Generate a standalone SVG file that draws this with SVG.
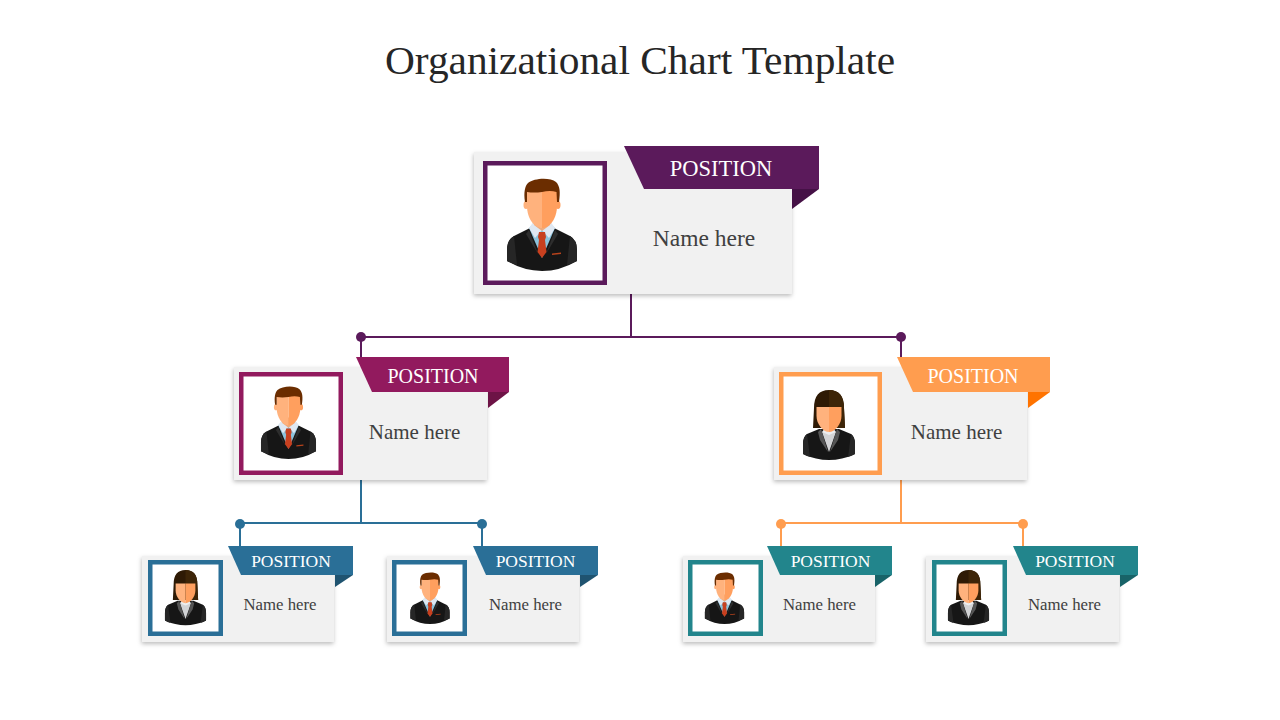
<svg xmlns="http://www.w3.org/2000/svg" xmlns:xlink="http://www.w3.org/1999/xlink" width="1280" height="720" viewBox="0 0 1280 720">
<style>
text{font-family:"Liberation Serif","Times New Roman",serif;text-anchor:middle}
.title{font-size:40px;fill:#262626}
.card{fill:#f1f1f1;filter:url(#sh)}
.frame{fill:#fff;stroke-width:4.5}
.pos{fill:#fff}
.nm{fill:#404040}
.pl{font-size:22.500px}.nl{font-size:23.500px}.pm{font-size:20px}.nm2{font-size:21px}.ps{font-size:17.500px}.ns{font-size:16.800px}
.conn{fill:none;stroke-width:2}
</style>
<defs>
<filter id="sh" x="-5%" y="-5%" width="112%" height="114%"><feDropShadow dx="-.5" dy="2" stdDeviation="2.300" flood-color="#000" flood-opacity=".26"/></filter>
<g id="man">
<path d="M-12 50 L-28 58 Q-35 62 -35 72 L-35 83 Q-18 93 0 93 Q18 93 35 83 L35 72 Q35 62 28 58 L12 50Z" fill="#161616"/>
<path d="M-35 83 L-35 72 Q-35 62 -28 58 L-25 87Q-31 85 -35 83Z M35 83 L35 72 Q35 62 28 58 L25 87Q31 85 35 83Z" fill="#262626"/>
<path d="M-13 50 L0 80 L13 50 L7 44 L-7 44Z" fill="#8cc3dc"/>
<path d="M-13 50 L-8 43 L0 52 L8 43 L13 50 L7 60 L0 52 L-7 60Z" fill="#dfe8f2"/>
<path d="M-8 40 H8 V47 L0 53 L-8 47Z" fill="#eeaa7c"/>
<path d="M-13 52 L-16 56 L-4 76Z M13 52 L16 56 L4 76Z" fill="#2d2d2d"/>
<path d="M-3 54 H3 L4 59 L3 62 L4.500 74 L0 80 L-4.500 74 L-3 62 L-4 59Z" fill="#c8401f"/>
<path d="M10 75.500 L19 74.500 V76 L10 77Z" fill="#b8431c"/>
<ellipse cx="-16" cy="27" rx="2.500" ry="4" fill="#ffb27d"/><ellipse cx="16" cy="27" rx="2.500" ry="4" fill="#ff9f5e"/>
<path d="M0 10 H-15 V28 C-15 40 -8 50 0 50Z" fill="#ffb27d"/>
<path d="M0 10 H15 V28 C15 40 8 50 0 50Z" fill="#ff9f5e"/>
<path d="M-17 24 C-18.500 14 -17 8 -14 5 C-8 0 8 -1 14 4 C18 8 18.500 14 17 24 L15 24 L14.500 14 Q8 12 0 14 Q-8 15 -15 14 L-15 24Z" fill="#6b2d00"/>
</g>
<g id="woman">
<path d="M-15 18 Q-15 0 0 0 Q15 0 15 18 L16 38 L-16 38Z" fill="#2e1a05"/>
<path d="M0 0 Q15 0 15 18 L16 38 L0 38Z" fill="#3d2508"/>
<path d="M-10 39 L-22 44 Q-26 47 -26 54 L-26 64 Q-13 70 0 70 Q13 70 26 64 L26 54 Q26 47 22 44 L10 39Z" fill="#161616"/>
<path d="M-26 64 L-26 54 Q-26 47 -22 44 L-19 67Q-23 66 -26 64Z M26 64 L26 54 Q26 47 22 44 L19 67Q23 66 26 64Z" fill="#262626"/>
<path d="M-7 42 L0 62 L7 42Z" fill="#d2d3d5"/>
<path d="M-8 39 L-11 42 L-9 50 L-1 62 L-7 42Z M8 39 L11 42 L9 50 L1 62 L7 42Z" fill="#555"/>
<path d="M-7 42 L-4 38 H4 L7 42 L0 45Z" fill="#eceef0"/>
<path d="M0 17 H-12.500 V26 C-12.500 34 -6 42 0 42Z" fill="#ffb27d"/>
<path d="M0 17 H12.500 V26 C12.500 34 6 42 0 42Z" fill="#ff9f5e"/>
</g>
</defs>
<text class="title" x="640" y="73.500" textLength="510" lengthAdjust="spacingAndGlyphs">Organizational Chart Template</text>
<g id="connectors" class="conn">
<g stroke="#5b1a5b"><path class="conn" d="M631 294V337M361 337H901M361 337V358M901 337V358"/><circle cx="361" cy="337" r="5" fill="#5b1a5b" stroke="none"/><circle cx="901" cy="337" r="5" fill="#5b1a5b" stroke="none"/></g>
<g stroke="#2a6f97"><path class="conn" d="M361 480V523M240 523H482M240 523V547M482 523V547"/><circle cx="240" cy="524" r="5" fill="#2a6f97" stroke="none"/><circle cx="482" cy="524" r="5" fill="#2a6f97" stroke="none"/></g>
<g stroke="#ff9d4f"><path class="conn" d="M901 480V523M781 523H1023M781 523V547M1023 523V547"/><circle cx="781" cy="524" r="5" fill="#ff9d4f" stroke="none"/><circle cx="1023" cy="524" r="5" fill="#ff9d4f" stroke="none"/></g>
</g>
<g id="node-top">
<rect class="card" x="474" y="152" width="318" height="142"/>
<rect class="frame" x="485.250" y="163.250" width="119.500" height="119.500" stroke="#5b1a5b"/>
<use xlink:href="#man" href="#man" transform="translate(542 178)"/>
<path d="M624 146H819V189H644Z" fill="#5b1a5b"/><path d="M792 189H819L792 209Z" fill="#451146"/>
<text class="pos pl" x="721" y="176">POSITION</text><text class="nm nl" x="704" y="245.500">Name here</text>
</g>
<g id="node-mid-left">
<rect class="card" x="234" y="367" width="253" height="113"/>
<rect class="frame" x="241.250" y="374.250" width="99.500" height="98.500" stroke="#921a5e"/>
<use xlink:href="#man" href="#man" transform="translate(288.500 386) scale(.786)"/>
<path d="M356 357H509V392H372Z" fill="#921a5e"/><path d="M488 392H509L488 408Z" fill="#6d1346"/>
<text class="pos pm" x="433" y="382.500">POSITION</text><text class="nm nm2" x="414.500" y="439">Name here</text>
</g>
<g id="node-mid-right">
<rect class="card" x="774" y="367" width="253" height="113"/>
<rect class="frame" x="781.250" y="374.250" width="98.500" height="98.500" stroke="#ff9d4f"/>
<use xlink:href="#woman" href="#woman" transform="translate(829 390)"/>
<path d="M897 357H1050V392H913Z" fill="#ff9d4f"/><path d="M1028 392H1050L1028 408Z" fill="#ff7300"/>
<text class="pos pm" x="973" y="382.500">POSITION</text><text class="nm nm2" x="956.500" y="439">Name here</text>
</g>
<g id="node-a">
<rect class="card" x="142" y="556" width="192" height="86"/>
<rect class="frame" x="150.250" y="562.250" width="70.500" height="71.500" stroke="#2a6f97"/>
<use xlink:href="#woman" href="#woman" transform="translate(185.500 570) scale(.79)"/>
<path d="M228 546H353V575H241Z" fill="#2a6f97"/><path d="M335 575H353L335 587Z" fill="#1f5370"/>
<text class="pos ps" x="291" y="566.500">POSITION</text><text class="nm ns" x="280" y="609.500">Name here</text>
</g>
<g id="node-b">
<rect class="card" x="387" y="556" width="192" height="86"/>
<rect class="frame" x="394.250" y="562.250" width="70.500" height="71.500" stroke="#2a6f97"/>
<use xlink:href="#man" href="#man" transform="translate(430 572) scale(.56)"/>
<path d="M473 546H598V575H486Z" fill="#2a6f97"/><path d="M580 575H598L580 587Z" fill="#1f5370"/>
<text class="pos ps" x="535.500" y="566.500">POSITION</text><text class="nm ns" x="525.500" y="609.500">Name here</text>
</g>
<g id="node-c">
<rect class="card" x="683" y="556" width="192" height="86"/>
<rect class="frame" x="690.250" y="562.250" width="70.500" height="71.500" stroke="#22858c"/>
<use xlink:href="#man" href="#man" transform="translate(724.500 572) scale(.56)"/>
<path d="M767 546H892V575H780Z" fill="#22858c"/><path d="M875 575H892L875 587Z" fill="#186368"/>
<text class="pos ps" x="830.500" y="566.500">POSITION</text><text class="nm ns" x="819.500" y="609.500">Name here</text>
</g>
<g id="node-d">
<rect class="card" x="926" y="556" width="193" height="86"/>
<rect class="frame" x="934.250" y="562.250" width="70.500" height="71.500" stroke="#22858c"/>
<use xlink:href="#woman" href="#woman" transform="translate(968.500 570) scale(.79)"/>
<path d="M1013 546H1138V575H1026Z" fill="#22858c"/><path d="M1120 575H1138L1120 587Z" fill="#186368"/>
<text class="pos ps" x="1075" y="566.500">POSITION</text><text class="nm ns" x="1064.500" y="609.500">Name here</text>
</g>
</svg>
